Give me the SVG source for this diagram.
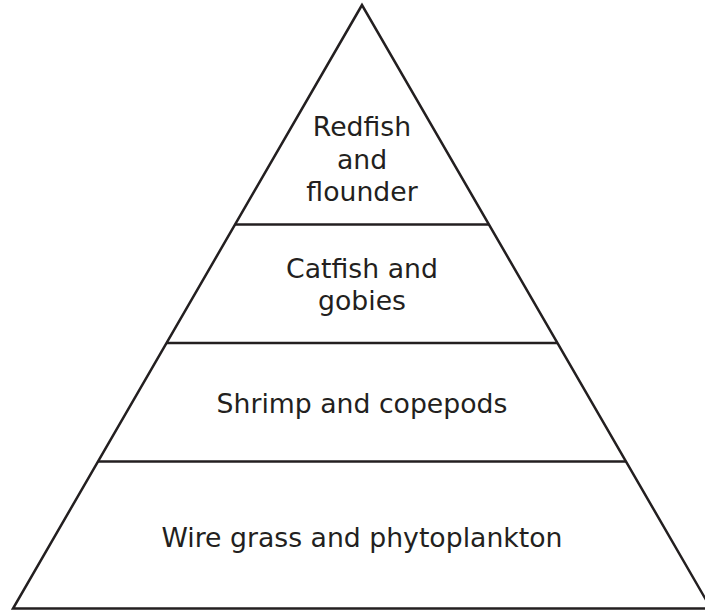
<svg xmlns="http://www.w3.org/2000/svg" width="705" height="610" viewBox="0 0 705 610">
  <style>
    .line { fill: none; stroke: #231f20; stroke-width: 2.5; stroke-linejoin: miter; }
    .label { font-family: "DejaVu Sans", Verdana, sans-serif; font-size: 26.7px; fill: #231f20; text-anchor: middle; }
  </style>
  <rect x="0" y="0" width="705" height="610" fill="#ffffff"/>
  <g id="pyramid-outline">
    <polygon class="line" points="362,5 13,608.5 711,608.5"/>
  </g>
  <g id="level-4-top">
    <text class="label" x="362" y="136">Redfish</text>
    <text class="label" x="362" y="168.5">and</text>
    <text class="label" x="362" y="201">flounder</text>
  </g>
  <g id="level-3">
    <line class="line" x1="235" y1="224.5" x2="489" y2="224.5"/>
    <text class="label" x="362" y="278">Catfish and</text>
    <text class="label" x="362" y="310">gobies</text>
  </g>
  <g id="level-2">
    <line class="line" x1="166.6" y1="343" x2="557.4" y2="343"/>
    <text class="label" x="362" y="413">Shrimp and copepods</text>
  </g>
  <g id="level-1-base">
    <line class="line" x1="98" y1="461.5" x2="626" y2="461.5"/>
    <text class="label" x="362" y="547">Wire grass and phytoplankton</text>
  </g>
  <g id="connectors"></g>
</svg>
